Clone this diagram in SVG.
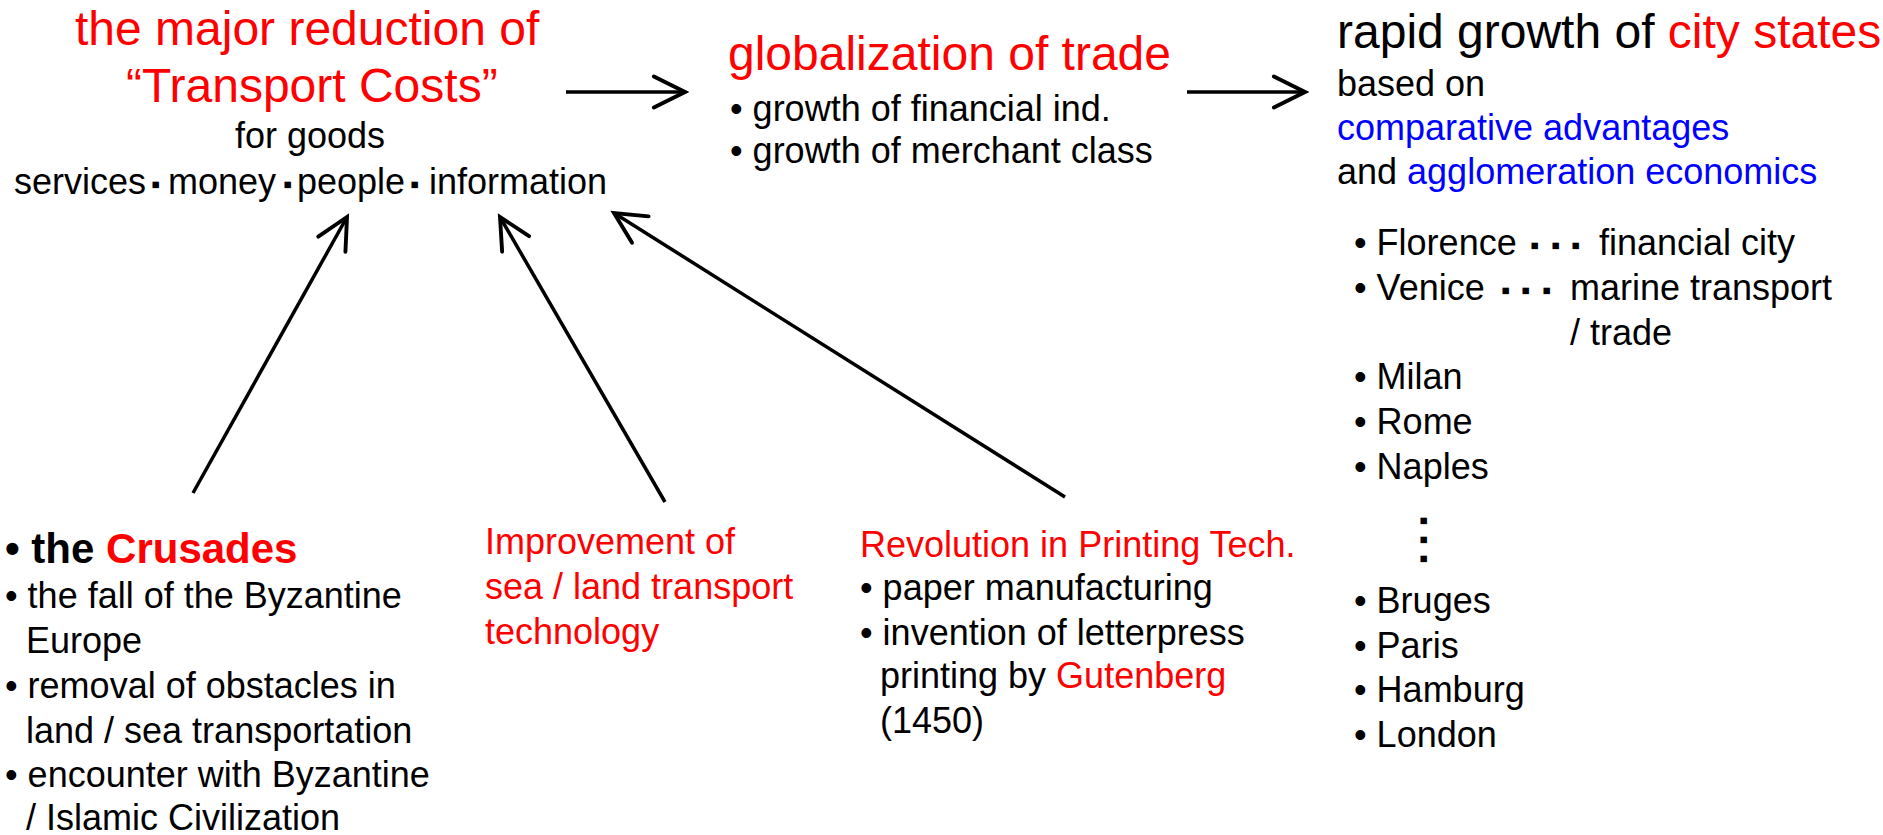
<svg xmlns="http://www.w3.org/2000/svg" width="1883" height="835" viewBox="0 0 1883 835">
<style>
text{font-family:"Liberation Sans",Arial,sans-serif;fill:#000}
.s36{font-size:36px}
.s48{font-size:48px}
.r{fill:#ff0000}
.bl{fill:#0000ff}
.bold{font-weight:bold}
.sq{font-size:26px}
.conn line{stroke:#000;stroke-width:3.5;fill:none}
</style>
<defs>
<marker id="ah" markerUnits="userSpaceOnUse" markerWidth="40" markerHeight="40" viewBox="-32 -18 36 36" refX="0" refY="0" orient="auto">
<path d="M-28,-14 L0,0 L-28,14" fill="none" stroke="#000" stroke-width="3.5" stroke-linecap="round" stroke-linejoin="miter"/>
</marker>
</defs>
<rect width="1883" height="835" fill="#fff"/>

<g id="transport-costs">
<text class="s48 r" x="75" y="45">the major reduction of</text>
<text class="s48 r" x="126" y="102">“Transport Costs”</text>
<text class="s36" x="235" y="148">for goods</text>
<text class="s36" y="193.5"><tspan x="14">services</tspan><tspan class="sq" x="151" y="192.5">▪</tspan><tspan x="168" y="193.5">money</tspan><tspan class="sq" x="283" y="192.5">▪</tspan><tspan x="297" y="193.5">people</tspan><tspan class="sq" x="410" y="192.5">▪</tspan><tspan x="429" y="193.5">information</tspan></text>
</g>

<g id="globalization">
<text class="s48 r" x="728" y="70">globalization of trade</text>
<text class="s36" x="730" y="121">• growth of financial ind.</text>
<text class="s36" x="730" y="163">• growth of merchant class</text>
</g>

<g id="city-states">
<text class="s48" x="1337" y="48">rapid growth of <tspan class="r">city states</tspan></text>
<text class="s36" x="1337" y="96">based on</text>
<text class="s36 bl" x="1337" y="140">comparative advantages</text>
<text class="s36" x="1337" y="184">and <tspan class="bl">agglomeration economics</tspan></text>
<text class="s36" x="1354" y="255">• Florence</text>
<text class="sq" x="1530 1551 1571" y="254">▪▪▪</text>
<text class="s36" x="1599" y="255">financial city</text>
<text class="s36" x="1354" y="300">• Venice</text>
<text class="sq" x="1501 1521 1542" y="299">▪▪▪</text>
<text class="s36" x="1570" y="300">marine transport</text>
<text class="s36" x="1570" y="345">/ trade</text>
<text class="s36" x="1354" y="389">• Milan</text>
<text class="s36" x="1354" y="434">• Rome</text>
<text class="s36" x="1354" y="479">• Naples</text>
<text class="sq" x="1419 1419 1419" y="529 548 567">▪▪▪</text>
<text class="s36" x="1354" y="613">• Bruges</text>
<text class="s36" x="1354" y="658">• Paris</text>
<text class="s36" x="1354" y="702">• Hamburg</text>
<text class="s36" x="1354" y="747">• London</text>
</g>

<g id="crusades">
<text class="bold" style="font-size:42px" x="5" y="563">• the <tspan class="r">Crusades</tspan></text>
<text class="s36" x="5" y="608">• the fall of the Byzantine</text>
<text class="s36" x="26" y="653">Europe</text>
<text class="s36" x="5" y="698">• removal of obstacles in</text>
<text class="s36" x="26" y="743">land / sea transportation</text>
<text class="s36" x="5" y="787">• encounter with Byzantine</text>
<text class="s36" x="26" y="830">/ Islamic Civilization</text>
</g>

<g id="transport-tech">
<text class="s36 r" x="485" y="554">Improvement of</text>
<text class="s36 r" x="485" y="599">sea / land transport</text>
<text class="s36 r" x="485" y="644">technology</text>
</g>

<g id="printing">
<text class="s36 r" x="860" y="557">Revolution in Printing Tech.</text>
<text class="s36" x="860" y="600">• paper manufacturing</text>
<text class="s36" x="860" y="645">• invention of letterpress</text>
<text class="s36" x="880" y="688">printing by <tspan class="r">Gutenberg</tspan></text>
<text class="s36" x="880" y="733">(1450)</text>
</g>

<g id="connectors" class="conn">
<line x1="566" y1="92" x2="685" y2="92" marker-end="url(#ah)"/>
<line x1="1187" y1="92" x2="1305" y2="92" marker-end="url(#ah)"/>
<line x1="193" y1="493" x2="347" y2="217" marker-end="url(#ah)"/>
<line x1="665" y1="502" x2="500" y2="217" marker-end="url(#ah)"/>
<line x1="1065" y1="497" x2="614" y2="213" marker-end="url(#ah)"/>
</g>
</svg>
